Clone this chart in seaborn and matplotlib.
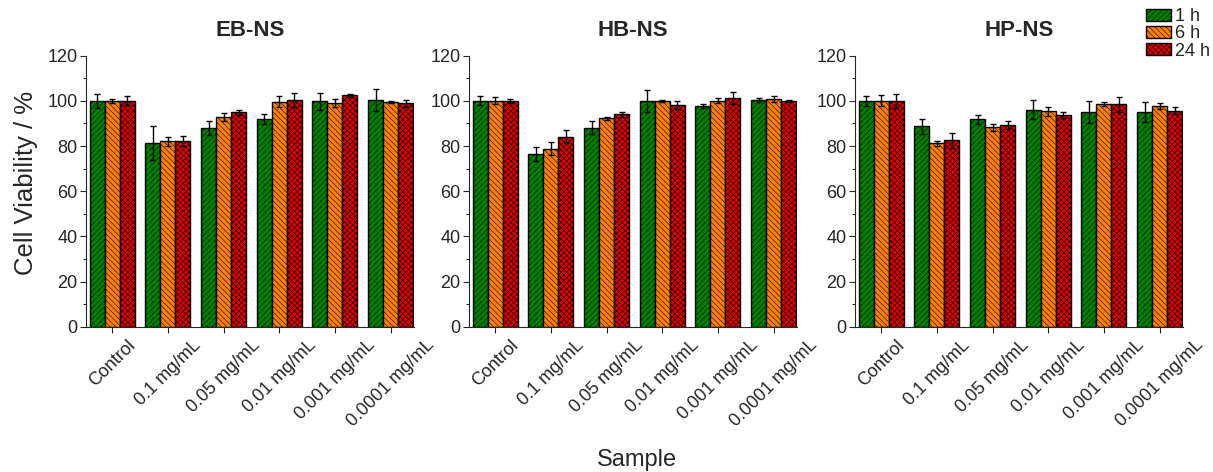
import numpy as np
import pandas as pd
import matplotlib
matplotlib.use("Agg")
import matplotlib.pyplot as plt
from matplotlib.ticker import MultipleLocator
from matplotlib.patches import Patch
import seaborn as sns

sns.set_style("ticks")
plt.rcParams['font.family'] = ['Liberation Sans', 'DejaVu Sans']
plt.rcParams['hatch.linewidth'] = 0.4

samples = ["Control", "0.1 mg/mL", "0.05 mg/mL", "0.01 mg/mL", "0.001 mg/mL", "0.0001 mg/mL"]
times = ["1 h", "6 h", "24 h"]
panels = ["EB-NS", "HB-NS", "HP-NS"]

# EB-NS
eb_1h = [100.0, 81.4, 88.1, 91.9, 99.8, 100.4]
eb_6h = [100.0, 82.1, 92.9, 99.6, 99.2, 99.6]
eb_24h = [100.0, 82.2, 94.9, 100.4, 102.5, 98.9]
eb_1h_err = [3.0, 7.6, 3.0, 2.2, 3.9, 4.8]
eb_6h_err = [1.0, 2.0, 1.8, 2.4, 1.8, 0.5]
eb_24h_err = [2.0, 2.4, 1.0, 3.0, 0.7, 1.5]

# HB-NS
hb_1h = [100.0, 76.5, 88.1, 100.0, 97.7, 100.4]
hb_6h = [100.0, 78.8, 92.3, 99.8, 100.1, 100.8]
hb_24h = [100.0, 84.2, 94.1, 98.2, 101.4, 100.0]
hb_1h_err = [2.0, 3.0, 2.9, 5.0, 1.0, 0.9]
hb_6h_err = [1.5, 2.9, 0.7, 0.4, 1.0, 1.3]
hb_24h_err = [1.0, 2.8, 1.1, 1.9, 2.7, 0.6]

# HP-NS
hp_1h = [100.0, 88.7, 91.8, 96.1, 95.1, 95.2]
hp_6h = [100.0, 81.2, 88.3, 95.4, 98.5, 97.7]
hp_24h = [100.0, 82.5, 89.2, 93.8, 98.5, 95.7]
hp_1h_err = [2.1, 3.2, 2.0, 4.3, 5.0, 4.4]
hp_6h_err = [2.4, 1.0, 1.6, 2.1, 0.8, 1.3]
hp_24h_err = [3.2, 3.2, 1.8, 1.4, 3.3, 1.7]

values = {
    "EB-NS": (eb_1h, eb_6h, eb_24h),
    "HB-NS": (hb_1h, hb_6h, hb_24h),
    "HP-NS": (hp_1h, hp_6h, hp_24h),
}
errors = {
    "EB-NS": (eb_1h_err, eb_6h_err, eb_24h_err),
    "HB-NS": (hb_1h_err, hb_6h_err, hb_24h_err),
    "HP-NS": (hp_1h_err, hp_6h_err, hp_24h_err),
}

colors = ["#008000", "#FF8000", "#E00000"]
hatches = ["//////", "\\\\\\\\\\\\", "xxxxxx"]

W, H = 1213, 472
fig = plt.figure(figsize=(W / 100, H / 100), dpi=100)

lefts = [86, 469, 855]
ax_w = 328
bottom_px = 326.7
top_px = 55.7

for i, name in enumerate(panels):
    ax = fig.add_axes([lefts[i] / W, 1 - bottom_px / H, ax_w / W, (bottom_px - top_px) / H])
    rows = []
    for t, vals in zip(times, values[name]):
        for s, v in zip(samples, vals):
            rows.append({"Sample": s, "Time": t, "Viability": v})
    df = pd.DataFrame(rows)
    sns.barplot(data=df, x="Sample", y="Viability", hue="Time", order=samples,
                hue_order=times, palette=colors, width=0.81, errorbar=None,
                edgecolor="black", linewidth=1.0, saturation=1, ax=ax, legend=False)
    bar_containers = list(ax.containers)
    for c, cont in enumerate(bar_containers):
        errs = errors[name][c]
        xs = [b.get_x() + b.get_width() / 2 for b in cont]
        hs = [b.get_height() for b in cont]
        for b in cont:
            b.set_hatch(hatches[c])
        ax.errorbar(xs, hs, yerr=errs, fmt="none", ecolor="black", elinewidth=1.0,
                    capsize=2.5, capthick=1.0, zorder=5)
    ax.set_ylim(0, 120)
    ax.set_xlim(-0.47, 5.42)
    ax.yaxis.set_major_locator(MultipleLocator(20))
    ax.yaxis.set_minor_locator(MultipleLocator(10))
    ax.tick_params(axis="y", which="major", length=4, width=0.8, labelsize=13, pad=2)
    ax.tick_params(axis="y", which="minor", length=2.5, width=0.8)
    ax.tick_params(axis="x", length=4, width=0.8, labelsize=13, pad=3)
    ax.set_xticks(range(len(samples)))
    ax.set_xticklabels(samples, rotation=45, ha="center", va="top")
    ax.set_xlabel("")
    ax.set_ylabel("")
    ax.set_title(name, fontsize=16, fontweight="bold", pad=14)
    sns.despine(ax=ax)
    for sp in ("left", "bottom"):
        ax.spines[sp].set_linewidth(0.8)
    if i == 0:
        ax.set_ylabel("Cell Viability / %", fontsize=18.5)
        ax.yaxis.set_label_coords(-0.146, 0.53)

fig.text(637 / W, 1 - 460 / H, "Sample", ha="center", va="center", fontsize=17)

handles = [Patch(facecolor=colors[k], edgecolor="black", hatch=hatches[k], linewidth=1.0)
           for k in range(3)]
fig.legend(handles, times, loc="upper left", bbox_to_anchor=(1146 / W, 1 - 8 / H),
           frameon=False, fontsize=13, handlelength=1.39, handleheight=0.64,
           handletextpad=0.2, labelspacing=0.02, borderpad=0, borderaxespad=0)

fig.savefig("out.png", dpi=100)
